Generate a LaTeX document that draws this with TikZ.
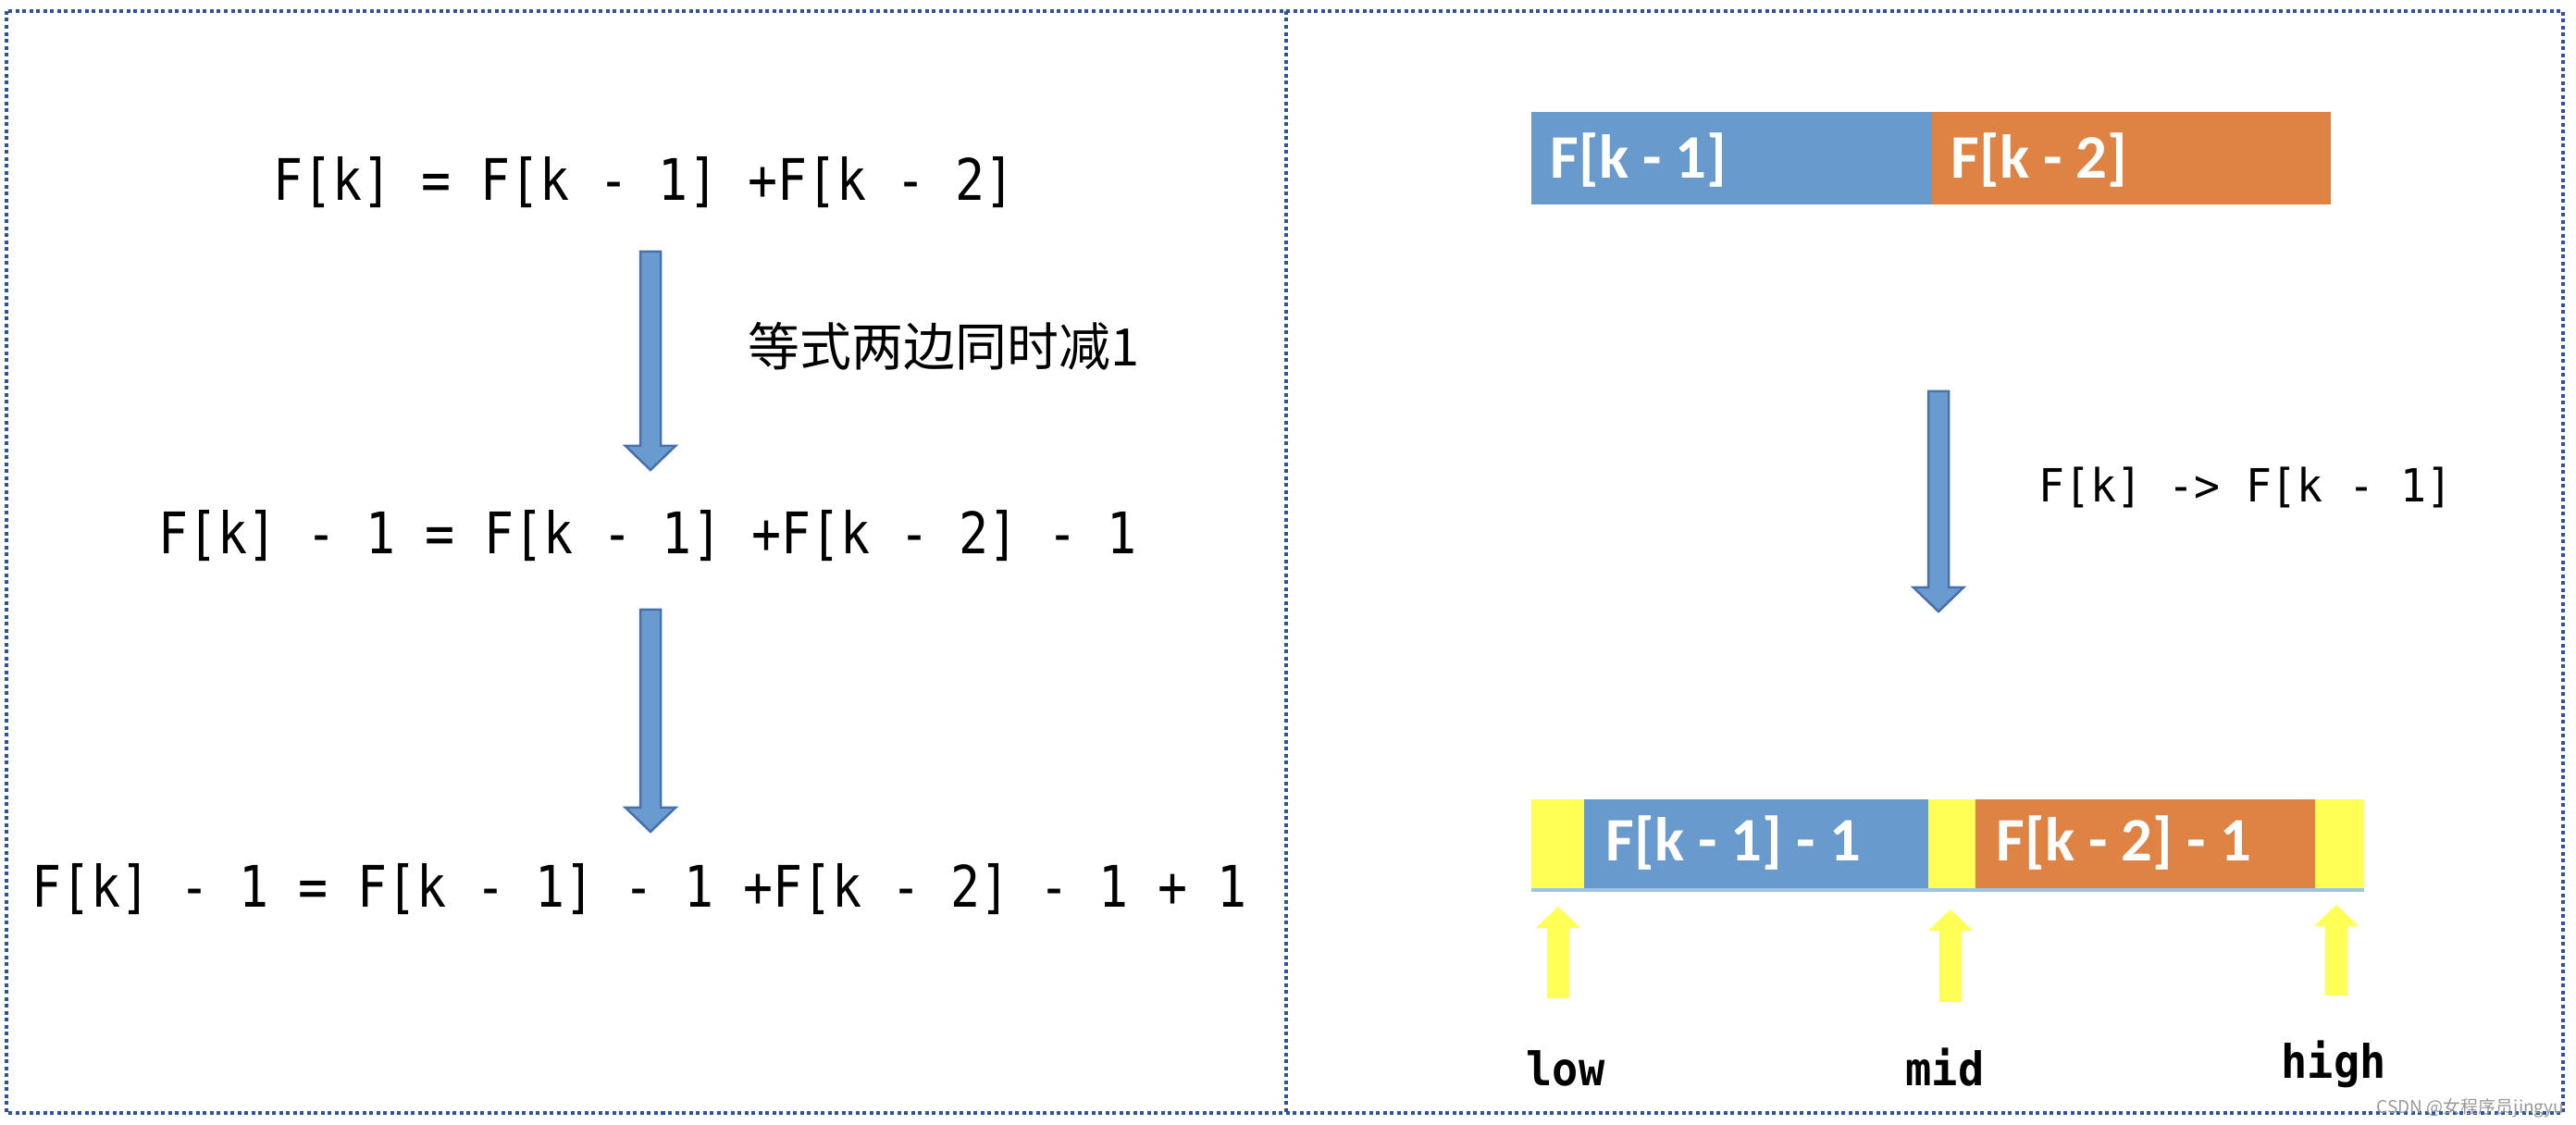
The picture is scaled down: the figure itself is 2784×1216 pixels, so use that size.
\documentclass[tikz,border=0pt]{standalone}
\usepackage{fontspec}
\newfontfamily\monoA[FakeStretch=0.86]{DejaVu Sans Mono}
\newfontfamily\monoB[FakeStretch=0.94]{DejaVu Sans Mono}
\newfontfamily\cjkfont{Noto Sans CJK SC}
\newfontfamily\barfont{Carlito}
\definecolor{borderblue}{RGB}{47,82,160}
\definecolor{arrowfill}{RGB}{106,155,208}
\definecolor{arrowline}{RGB}{72,112,172}
\definecolor{barblue}{RGB}{105,154,206}
\definecolor{barorange}{RGB}{223,131,69}
\definecolor{baryellow}{RGB}{255,255,85}
\definecolor{linelight}{RGB}{157,195,230}
\newcommand\blockdown[3]{\filldraw[bluearrow] (#1-11,#2) -- (#1+11,#2) -- (#1+11,#3-26) -- (#1+27,#3-26) -- (#1,#3) -- (#1-27,#3-26) -- (#1-11,#3-26) -- cycle;}
\newcommand\blockup[3]{\fill[yellowarrow] (#1-12,#3) -- (#1+12,#3) -- (#1+12,#2+23) -- (#1+24,#2+23) -- (#1,#2) -- (#1-24,#2+23) -- (#1-12,#2+23) -- cycle;}
\begin{document}
\begin{tikzpicture}[x=0.01cm,y=-0.01cm,
  panel/.style={draw=borderblue,line width=3.2*0.01cm,dash pattern=on 0.04cm off 0.035cm},
  bluearrow/.style={fill=arrowfill,draw=arrowline,line width=0.025cm,line join=miter},
  yellowarrow/.style={fill=baryellow},
  eqA/.style={inner sep=0pt,anchor=base,font=\monoA\fontsize{17.6pt}{20pt}\selectfont},
  eqB/.style={inner sep=0pt,anchor=base,font=\monoB\fontsize{14.06pt}{17pt}\selectfont},
  ptr/.style={inner sep=0pt,anchor=base,font=\monoB\bfseries\fontsize{14.2pt}{17pt}\selectfont},
  bartext/.style={inner sep=0pt,anchor=base west,text=white,font=\barfont\bfseries\fontsize{19pt}{22pt}\selectfont},
  cjktext/.style={inner sep=0pt,anchor=base,font=\cjkfont\fontsize{15.9pt}{19pt}\selectfont},
  wm/.style={inner sep=0pt,anchor=base east,text=black!40,font=\cjkfont\fontsize{5.4pt}{6pt}\selectfont}]
\useasboundingbox (0,0) rectangle (2784,1216);
\fill[white] (0,0) rectangle (2784,1216);
% panels
\draw[panel] (7,12) rectangle (2770,1203);
\draw[panel] (1390,12) -- (1390,1203);
% left side equations
\node[eqA] (e1) at (696,217) {F[k] = F[k - 1] +F[k - 2]};
\node[eqA] (e2) at (700,599) {F[k] - 1 = F[k - 1] +F[k - 2] - 1};
\node[eqA] (e3) at (691,981) {F[k] - 1 = F[k - 1] - 1 +F[k - 2] - 1 + 1};
\blockdown{703}{272}{508}
\blockdown{703}{659}{899}
\node[cjktext] (note) at (1020,396) {等式两边同时减1};
% right side top bar
\fill[barblue] (1655,121) rectangle (2088,221);
\fill[barorange] (2088,121) rectangle (2519,221);
\node[bartext] (t1) at (1675,193) {F[k - 1]};
\node[bartext] (t2) at (2108,193) {F[k - 2]};
\blockdown{2095}{423}{661}
\node[eqB] (rule) at (2427,543) {F[k] -> F[k - 1]};
% bottom bar
\fill[baryellow] (1655,864) rectangle (1712,962);
\fill[barblue] (1712,864) rectangle (2084,962);
\fill[baryellow] (2084,864) rectangle (2135,962);
\fill[barorange] (2135,864) rectangle (2502,962);
\fill[baryellow] (2502,864) rectangle (2555,962);
\draw[linelight,line width=0.03cm] (1655,962) -- (2555,962);
\node[bartext] (b1) at (1735,930) {F[k - 1] - 1};
\node[bartext] (b2) at (2157,930) {F[k - 2] - 1};
% pointers
\blockup{1684}{980}{1079}
\blockup{2108}{983}{1083}
\blockup{2525}{978}{1076}
\node[ptr] (low) at (1692,1173) {low};
\node[ptr] (mid) at (2102,1173) {mid};
\node[ptr] (high) at (2522,1165) {high};
\node[wm] (mark) at (2772,1203) {CSDN @女程序员jingyu};
\end{tikzpicture}
\end{document}
